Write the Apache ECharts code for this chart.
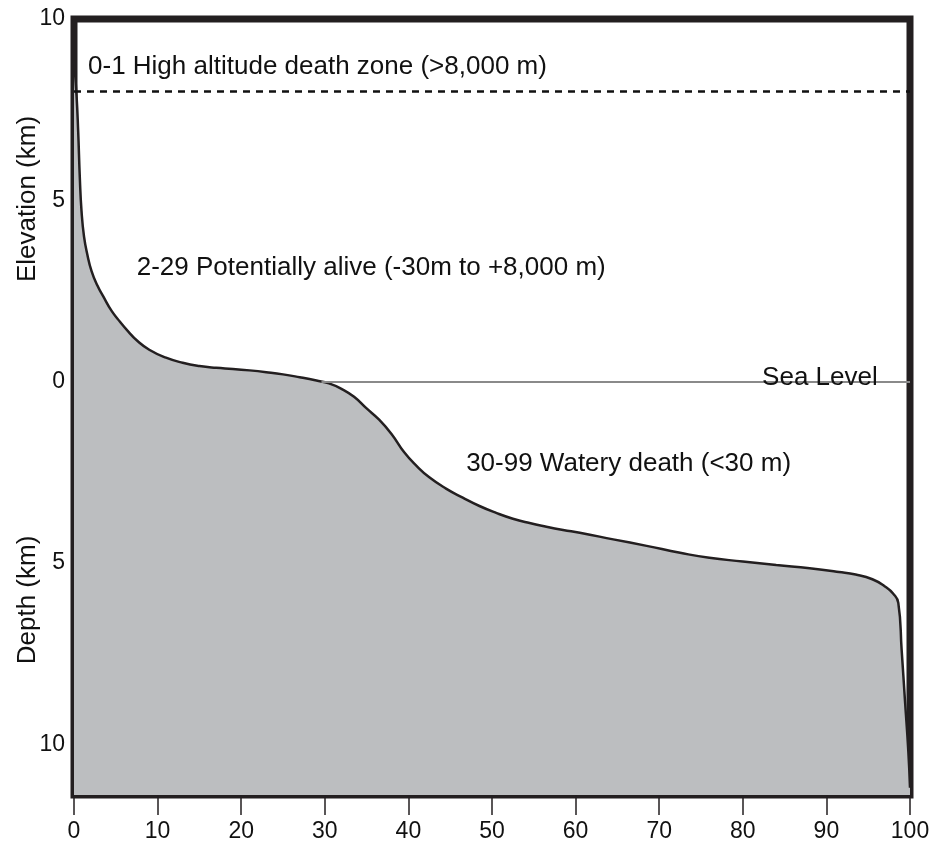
<!DOCTYPE html>
<html>
<head>
<meta charset="utf-8">
<script src="https://cdn.jsdelivr.net/npm/echarts@6/dist/echarts.min.js"></script>
<style>html,body{margin:0;padding:0;background:#fff}#c{width:935px;height:845px}</style>
</head>
<body>
<div id="c"></div>
<script>
// percentage of Earth's surface (cumulative)
const percentArea = [0, 0.3, 0.5, 0.7, 0.9, 1.2, 1.6, 2.1, 2.8, 3.5, 4.5, 5.5, 6.5, 7.5, 9, 11, 13, 15, 17, 19, 21, 23, 25, 27, 29, 30.5, 32, 33.5, 35, 36.5, 38, 39.5, 41, 42.5, 44.5, 46.5, 48.5, 50.5, 52.5, 54.5, 56.5, 58.5, 60.5, 64.5, 68.5, 72.5, 76, 80, 84, 88, 91.5, 93.5, 95.5, 97, 98, 98.6, 99, 99.4, 99.8, 100];
// elevation in km (negative = depth below sea level)
const elevationKm = [8.85, 7.9, 6.9, 5.6, 4.7, 4.0, 3.5, 3.05, 2.65, 2.35, 1.95, 1.65, 1.38, 1.14, 0.88, 0.66, 0.52, 0.43, 0.38, 0.35, 0.31, 0.26, 0.2, 0.12, 0.03, -0.05, -0.2, -0.42, -0.74, -1.05, -1.45, -1.95, -2.33, -2.64, -2.95, -3.2, -3.43, -3.62, -3.78, -3.9, -4.0, -4.09, -4.17, -4.35, -4.53, -4.72, -4.86, -4.96, -5.06, -5.15, -5.25, -5.32, -5.45, -5.65, -5.85, -6.1, -7.4, -8.8, -10.2, -11.2];
const yTickValues = [-10, -5, 0, 5, 10];
const deathZoneKm = 8;
const seaLevelKm = 0;
const annotationTexts = ['0-1 High altitude death zone (>8,000 m)', '2-29 Potentially alive (-30m to +8,000 m)', '30-99 Watery death (<30 m)'];
const seaLevelText = 'Sea Level';

const FONT = '"Liberation Sans", Arial, sans-serif';
const annotationCoords = [[1.67, 8.67], [7.5, 3.13], [46.9, -2.27], [82.3, 0.1]];
const labelTexts = annotationTexts.concat([seaLevelText]);

const chart = echarts.init(document.getElementById('c'), null, {renderer: 'canvas'});
chart.setOption({
  animation: false,
  backgroundColor: '#fff',
  grid: {left: 74, right: 25, top: 19, bottom: 50, show: true, borderColor: '#231f20', borderWidth: 7, backgroundColor: 'transparent'},
  xAxis: {
    type: 'value', min: 0, max: 100, interval: 10,
    axisLine: {show: false, onZero: false},
    axisTick: {show: true, length: 20, lineStyle: {color: '#231f20', width: 1.5}},
    axisLabel: {color: '#111', fontSize: 23, fontFamily: FONT, margin: 25},
    splitLine: {show: false}
  },
  yAxis: {
    type: 'value', min: -11.4, max: 10,
    axisLine: {show: false},
    axisTick: {show: false},
    axisLabel: {
      color: '#111', fontSize: 23, fontFamily: FONT, margin: 9,
      customValues: yTickValues,
      formatter: v => String(Math.abs(v))
    },
    splitLine: {show: false}
  },
  graphic: [
    {type: 'text', x: 28, y: 199, rotation: Math.PI / 2, style: {text: 'Elevation (km)', fill: '#111', font: '26px ' + FONT, textAlign: 'center', textVerticalAlign: 'middle'}},
    {type: 'text', x: 28, y: 600, rotation: Math.PI / 2, style: {text: 'Depth (km)', fill: '#111', font: '26px ' + FONT, textAlign: 'center', textVerticalAlign: 'middle'}}
  ],
  series: [
    {
      type: 'line',
      data: percentArea.map((x, i) => [x, elevationKm[i]]),
      smooth: 0.5,
      showSymbol: false,
      symbol: 'none',
      lineStyle: {color: '#231f20', width: 2.5},
      areaStyle: {color: '#bcbec0', opacity: 1, origin: 'start'},
      z: 2,
      markLine: {
        silent: true, symbol: 'none', animation: false,
        label: {show: false},
        data: [
          [{coord: [0, deathZoneKm], lineStyle: {color: '#111', width: 2.5, type: [7, 6]}}, {coord: [100, deathZoneKm]}],
          [{coord: [29.6, seaLevelKm], lineStyle: {color: '#8a8a8a', width: 2, type: 'solid'}}, {coord: [100, seaLevelKm]}]
        ]
      },
      markPoint: {
        silent: true, symbol: 'circle', symbolSize: 0.1, animation: false,
        itemStyle: {color: 'transparent'},
        label: {show: true, position: 'right', distance: 0, color: '#111', fontSize: 26, fontFamily: FONT},
        data: annotationCoords.map((c, i) => ({coord: c, value: labelTexts[i], label: {formatter: labelTexts[i]}}))
      }
    }
  ]
});
</script>
</body>
</html>
